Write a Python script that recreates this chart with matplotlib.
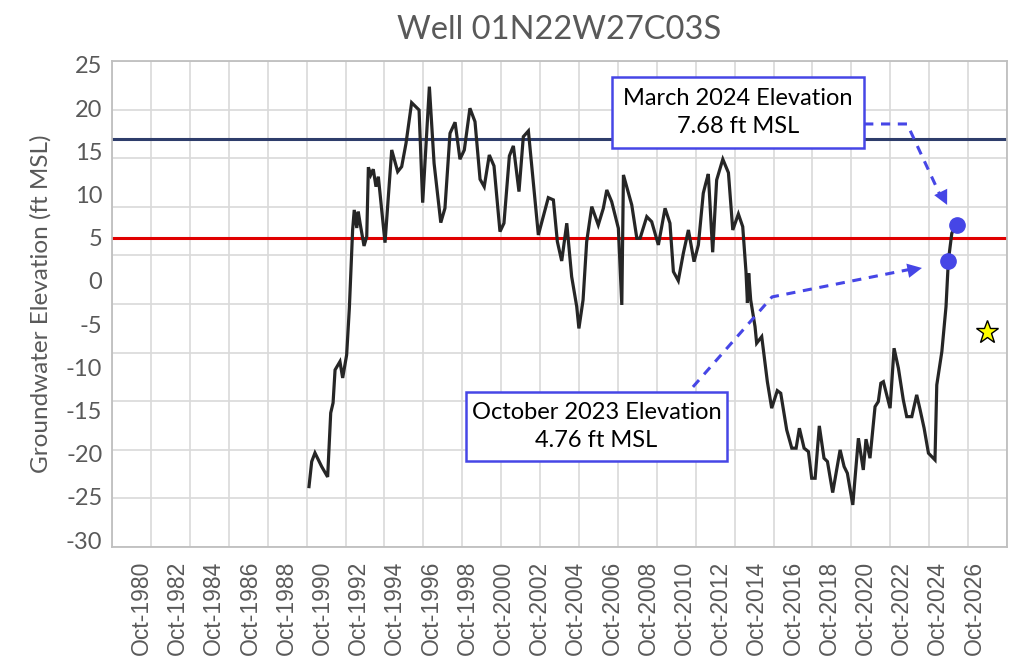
import numpy as np
import matplotlib.pyplot as plt
from matplotlib.patches import Rectangle

# groundwater level record (decimal year position on the chart axis, ft MSL)
years = [1990.01, 1990.16, 1990.34, 1990.71, 1991.04, 1991.21, 1991.34, 1991.45, 1991.72, 1991.87,
         1992.09, 1992.24, 1992.42, 1992.51, 1992.65, 1992.73, 1992.83, 1993.05, 1993.20, 1993.29,
         1993.42, 1993.56, 1993.71, 1993.84, 1994.21, 1994.58, 1994.91, 1995.13, 1995.37, 1995.68,
         1996.09, 1996.29, 1996.66, 1996.92, 1997.29, 1997.52, 1997.80, 1998.08, 1998.35, 1998.59,
         1998.90, 1999.18, 1999.46, 1999.69, 1999.97, 2000.23, 2000.56, 2000.78, 2001.08, 2001.30,
         2001.61, 2001.85, 2002.13, 2002.68, 2003.23, 2003.51, 2003.73, 2003.97, 2004.25, 2004.52,
         2004.80, 2004.92, 2005.15, 2005.35, 2005.63, 2005.99, 2006.27, 2006.46, 2006.73, 2007.10,
         2007.29, 2007.38, 2007.84, 2008.12, 2008.30, 2008.67, 2008.94, 2009.31, 2009.68, 2009.95,
         2010.14, 2010.41, 2010.69, 2010.97, 2011.28, 2011.52, 2011.79, 2011.93, 2012.07, 2012.31,
         2012.53, 2012.87, 2013.18, 2013.42, 2013.73, 2013.97, 2014.15, 2014.23, 2014.30, 2014.41,
         2014.65, 2014.74, 2015.02, 2015.33, 2015.57, 2015.88, 2016.07, 2016.40, 2016.68, 2016.92,
         2017.10, 2017.36, 2017.60, 2017.78, 2017.97, 2018.20, 2018.46, 2018.65, 2018.94, 2019.35,
         2019.57, 2019.75, 2020.05, 2020.36, 2020.63, 2020.78, 2021.00, 2021.28, 2021.46, 2021.60,
         2021.74, 2022.11, 2022.33, 2022.57, 2022.84, 2023.03, 2023.31, 2023.58, 2023.77, 2023.99,
         2024.23, 2024.59, 2024.69, 2024.97, 2025.20, 2025.33, 2025.52, 2025.79]
levels = [-23.81, -20.91, -19.91, -21.49, -22.69, -15.28, -14.12, -10.30, -9.34, -11.23,
          -8.56, -3.13, 5.90, 8.22, 6.13, 8.02, 6.71, 4.05, 5.13, 13.16,
          12.27, 12.93, 10.91, 12.07, 4.43, 15.16, 12.65, 13.23, 15.94, 20.64,
          19.79, 9.06, 22.49, 13.62, 6.75, 8.41, 17.09, 18.37, 14.09, 15.16,
          19.99, 18.44, 11.77, 10.91, 14.58, 13.31, 5.71, 6.68, 14.47, 15.63,
          10.34, 16.70, 17.36, 5.32, 9.64, 9.38, 4.55, 2.31, 6.68, 0.50,
          -2.97, -5.50, -2.20, 4.55, 8.60, 6.48, 8.41, 10.53, 9.18, 6.10,
          -2.78, 12.27, 8.80, 4.94, 4.94, 7.44, 6.86, 4.17, 8.41, 6.68,
          1.08, 0.03, 3.21, 5.90, 2.23, 4.17, 10.15, 11.31, 12.38, 3.32,
          11.69, 14.09, 12.53, 5.90, 7.75, 6.28, 1.08, -2.55, 0.89, -2.20,
          -5.29, -7.21, -6.45, -11.66, -14.73, -12.70, -13.00, -17.25, -19.36, -19.36,
          -17.05, -19.36, -19.76, -22.84, -22.84, -16.78, -20.52, -20.91, -24.50, -19.56,
          -21.49, -22.26, -25.93, -18.21, -21.88, -18.32, -20.52, -14.55, -13.97, -11.84,
          -11.66, -14.73, -7.79, -10.10, -13.77, -15.71, -15.71, -13.19, -14.93, -17.05,
          -19.94, -20.72, -12.04, -8.18, -2.97, 2.35, 5.52, 6.48]

# highlighted readings
dot_years = [2025.33, 2025.79]
dot_levels = [2.35, 6.48]
star_year = [2027.45]
star_level = [-5.94]

# reference levels
red_level = 5.0
blue_level = 16.4

tick_years = np.arange(1980.75, 2027, 2)
tick_labels = ['Oct-%d' % int(y) for y in tick_years]
y_ticks = np.arange(-30, 26, 5)

fig = plt.figure(figsize=(10.26, 6.66), dpi=100)
ax = fig.add_axes([0.1092, 0.1787, 0.8723, 0.7297])

xmin, xmax = 1979.13, 2028.57
ymin, ymax = -30.8, 25.46
ax.set_xlim(xmin, xmax)
ax.set_ylim(ymin, ymax)

# gridlines (evenly spaced, independent from label positions as in the source)
ax.set_xticks(np.linspace(xmin, xmax, 24), minor=True)
ax.set_yticks(np.linspace(ymin, ymax, 11), minor=True)
ax.grid(True, which='minor', color='#D9D9D9', lw=1.2)
ax.grid(False, which='major')
ax.tick_params(which='both', length=0)

ax.set_xticks(tick_years)
ax.set_xticklabels(tick_labels, rotation=90, fontsize=16.5, color='#595959',
                   family='Liberation Sans')
ax.set_yticks(y_ticks)
ax.set_yticklabels([str(v) for v in y_ticks], fontsize=17, color='#595959', family='Lato')
ax.tick_params(axis='x', pad=10)
ax.tick_params(axis='y', pad=7)

for s in ax.spines.values():
    s.set_color('#BFBFBF')
    s.set_linewidth(1.3)

ax.axhline(red_level, color='#E00000', lw=2.2, zorder=2)
ax.axhline(blue_level, color='#2E3D6B', lw=2.2, zorder=2)

ax.plot(years, levels, color='#262626', lw=2.3, zorder=3, solid_joinstyle='miter')
ax.plot(dot_years, dot_levels, 'o', color='#4646E6', ms=11, zorder=4)
ax.plot(star_year, star_level, '*', color='#FFFF00', mec='black', mew=1, ms=17, zorder=4)

blue = '#4646E6'
# callout boxes
boxes = [((2006.76, 15.39), 13.92, 8.22, 'March 2024 Elevation\n7.68 ft MSL'),
         ((1998.68, -20.83), 14.42, 7.98, 'October 2023 Elevation\n4.76 ft MSL')]
for (bx, by), bw, bh, txt in boxes:
    ax.add_patch(Rectangle((bx, by), bw, bh, facecolor='white', edgecolor=blue,
                           lw=1.8, zorder=5))
    ax.text(bx + bw / 2, by + bh / 2, txt, ha='center', va='center', fontsize=17,
            family='Lato', color='black', linespacing=1.45, zorder=6)

# dashed leader arrows
leaders = [([2020.68, 2023.05, 2024.95], [18.17, 18.17, 9.6], (2025.26, 8.80)),
           ([2011.22, 2015.59, 2023.4], [-12.27, -1.85, 1.42], (2023.87, 1.50))]
for lx, ly, tip in leaders:
    ax.plot(lx, ly, color=blue, lw=2.2, ls=(0, (3, 2.5)), zorder=5)
    ax.annotate('', xy=tip, xytext=(lx[-2], ly[-2]),
                arrowprops=dict(arrowstyle='-|>', color=blue, lw=0,
                                mutation_scale=26, shrinkA=0, shrinkB=0),
                zorder=5)

ax.set_title('Well 01N22W27C03S', fontsize=23.5, color='#595959', family='Lato', pad=16)
ax.set_ylabel('Groundwater Elevation (ft MSL)', fontsize=17.5, color='#595959',
              family='Lato', labelpad=10)

fig.savefig('out.png', dpi=100)
